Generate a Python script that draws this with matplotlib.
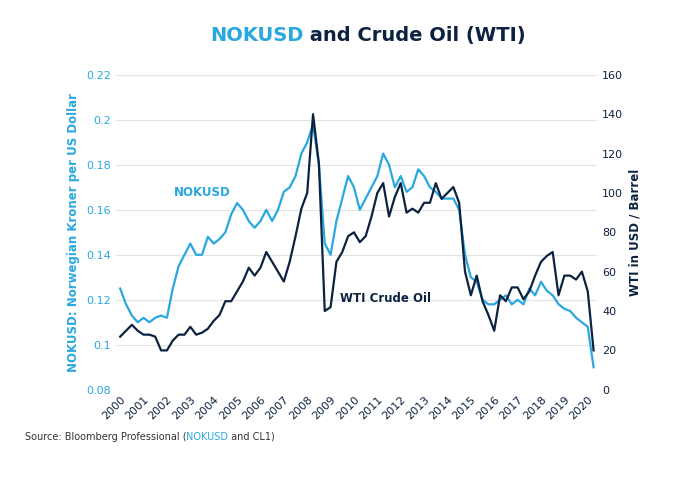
import matplotlib.pyplot as plt
import numpy as np

BLUE = "#29a8e0"
NAVY = "#0d2240"

# quarterly readings, 2000 Q1 .. 2020 Q2
nok = [0.125, 0.118, 0.113, 0.110, 0.112, 0.110, 0.112, 0.113,
       0.112, 0.125, 0.135, 0.140, 0.145, 0.140, 0.140, 0.148,
       0.145, 0.147, 0.150, 0.158, 0.163, 0.160, 0.155, 0.152,
       0.155, 0.160, 0.155, 0.160, 0.168, 0.170, 0.175, 0.185,
       0.190, 0.198, 0.180, 0.145, 0.140, 0.155, 0.165, 0.175,
       0.170, 0.160, 0.165, 0.170, 0.175, 0.185, 0.180, 0.170,
       0.175, 0.168, 0.170, 0.178, 0.175, 0.170, 0.168, 0.165,
       0.165, 0.165, 0.160, 0.140, 0.130, 0.128, 0.120, 0.118,
       0.118, 0.120, 0.122, 0.118, 0.120, 0.118, 0.125, 0.122,
       0.128, 0.124, 0.122, 0.118, 0.116, 0.115, 0.112, 0.110,
       0.108, 0.090]
wti = [27, 30, 33, 30, 28, 28, 27, 20,
       20, 25, 28, 28, 32, 28, 29, 31,
       35, 38, 45, 45, 50, 55, 62, 58,
       62, 70, 65, 60, 55, 65, 78, 92,
       100, 140, 115, 40, 42, 65, 70, 78,
       80, 75, 78, 88, 100, 105, 88, 98,
       105, 90, 92, 90, 95, 95, 105, 97,
       100, 103, 95, 60, 48, 58, 45, 38,
       30, 48, 45, 52, 52, 46, 50, 58,
       65, 68, 70, 48, 58, 58, 56, 60,
       50, 20]
years = list(range(2000, 2021))

t = 2000 + np.arange(len(nok)) / 4

fig = plt.figure(figsize=(7, 4.86), dpi=100)
ax = fig.add_axes([0.165, 0.198, 0.688, 0.648])
ax2 = ax.twinx()

ax.plot(t, nok, color=BLUE, lw=1.6)
ax2.plot(t, wti, color=NAVY, lw=1.6)

ax.set_ylim(0.08, 0.22)
ax.set_yticks(np.arange(0.08, 0.221, 0.02))
ax.set_yticklabels(["0.08", "0.1", "0.12", "0.14", "0.16", "0.18", "0.2", "0.22"])
ax2.set_ylim(0, 160)
ax2.set_yticks(range(0, 161, 20))
ax.set_xlim(1999.8, 2020.4)
ax.set_xticks(years)
ax.set_xticklabels([str(y) for y in years], rotation=45, ha="right",
                   rotation_mode="anchor", color=NAVY, fontsize=8)
ax.grid(axis="y", color="#e3e3e3", lw=0.8)
ax.set_axisbelow(True)
for a in (ax, ax2):
    for s in a.spines.values():
        s.set_visible(False)
    a.tick_params(length=0)
ax.tick_params(axis="y", colors=BLUE, labelsize=8)
ax2.tick_params(axis="y", colors=NAVY, labelsize=8)

ax.set_ylabel("NOKUSD: Norwegian Kroner per US Dollar", color=BLUE,
              fontsize=8.5, fontweight="bold")
ax2.set_ylabel("WTI in USD / Barrel", color=NAVY, fontsize=8.5, fontweight="bold")

ax.text(2002.3, 0.166, "NOKUSD", color=BLUE, fontsize=8.5, fontweight="bold")
ax.text(2009.4, 0.119, "WTI Crude Oil", color=NAVY, fontsize=8.5, fontweight="bold")

t1 = fig.text(0.30, 0.915, "NOKUSD", color=BLUE, fontsize=14, fontweight="bold")
fig.canvas.draw()
ax.annotate(" and Crude Oil (WTI)", xycoords=t1, xy=(1, 0), va="bottom",
            color=NAVY, fontsize=14, fontweight="bold")

s1 = fig.text(0.035, 0.095, "Source: Bloomberg Professional (", color="#333333", fontsize=7)
s2 = ax.annotate("NOKUSD", xycoords=s1, xy=(1, 0), va="bottom", color=BLUE, fontsize=7)
ax.annotate(" and CL1)", xycoords=s2, xy=(1, 0), va="bottom", color="#333333", fontsize=7)

fig.savefig("out.png")
